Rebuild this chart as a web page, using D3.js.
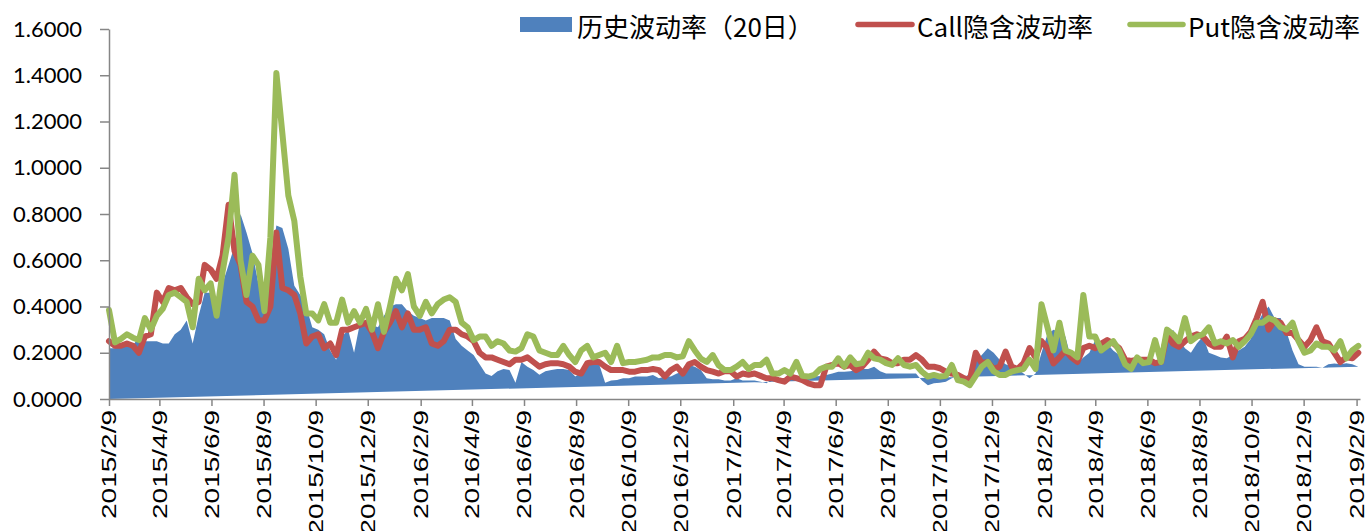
<html>
<head>
<meta charset="utf-8">
<title>波动率</title>
<script src="https://cdn.jsdelivr.net/npm/d3@7/dist/d3.min.js"></script>
<style>
  body { margin: 0; background: #fff; }
  svg { display: block; }
</style>
</head>
<body>
<div class="chart"></div>
<script>
// weekly observations starting 2015/2/9
var startDate = new Date(2015, 1, 9);

var histVol = [
  0.22,0.22,0.23,0.23,0.23,0.27,0.25,0.25,0.25,0.24,
  0.24,0.28,0.30,0.34,0.24,0.36,0.46,0.46,0.43,0.50,
  0.58,0.66,0.80,0.72,0.63,0.50,0.43,0.58,0.75,0.74,
  0.65,0.49,0.45,0.40,0.31,0.30,0.28,0.21,0.17,0.27,
  0.30,0.20,0.33,0.33,0.32,0.31,0.36,0.40,0.41,0.41,
  0.38,0.36,0.35,0.34,0.35,0.35,0.35,0.34,0.26,0.23,
  0.21,0.19,0.15,0.11,0.10,0.12,0.13,0.125,0.07,0.16,
  0.14,0.125,0.105,0.12,0.125,0.13,0.13,0.125,0.097,0.115,
  0.147,0.147,0.15,0.07,0.08,0.082,0.09,0.09,0.097,0.097,
  0.097,0.104,0.09,0.097,0.097,0.11,0.118,0.147,0.14,0.125,
  0.09,0.085,0.085,0.08,0.08,0.09,0.08,0.08,0.08,0.075,
  0.068,0.09,0.09,0.09,0.083,0.09,0.09,0.09,0.097,0.10,
  0.104,0.11,0.118,0.118,0.12,0.125,0.13,0.13,0.14,0.12,
  0.11,0.11,0.11,0.11,0.11,0.11,0.08,0.06,0.068,0.07,
  0.075,0.09,0.097,0.09,0.11,0.16,0.19,0.22,0.20,0.17,
  0.15,0.14,0.13,0.11,0.09,0.11,0.20,0.28,0.30,0.29,
  0.27,0.17,0.155,0.18,0.20,0.255,0.22,0.24,0.21,0.19,
  0.16,0.16,0.16,0.155,0.16,0.16,0.17,0.255,0.30,0.26,
  0.22,0.20,0.24,0.27,0.20,0.19,0.18,0.176,0.19,0.21,
  0.226,0.26,0.32,0.37,0.40,0.35,0.35,0.29,0.21,0.15,
  0.14,0.14,0.14,0.135,0.15,0.154,0.15,0.155,0.15,0.14
];

var callVol = [
  0.25,0.23,0.23,0.24,0.23,0.20,0.27,0.28,0.46,0.42,
  0.48,0.47,0.48,0.44,0.41,0.42,0.58,0.56,0.52,0.62,
  0.84,0.64,0.58,0.42,0.40,0.34,0.34,0.40,0.72,0.48,
  0.47,0.45,0.37,0.24,0.27,0.28,0.22,0.24,0.19,0.30,
  0.30,0.31,0.32,0.33,0.29,0.22,0.29,0.33,0.38,0.31,
  0.37,0.30,0.30,0.31,0.24,0.23,0.25,0.30,0.30,0.28,
  0.27,0.25,0.20,0.18,0.18,0.17,0.16,0.15,0.17,0.17,
  0.18,0.16,0.14,0.15,0.155,0.155,0.15,0.14,0.118,0.11,
  0.155,0.16,0.16,0.14,0.125,0.125,0.125,0.118,0.118,0.125,
  0.125,0.13,0.125,0.097,0.125,0.14,0.11,0.15,0.16,0.14,
  0.125,0.118,0.11,0.12,0.12,0.097,0.11,0.105,0.11,0.10,
  0.09,0.09,0.082,0.075,0.097,0.09,0.082,0.068,0.06,0.06,
  0.14,0.147,0.155,0.14,0.147,0.125,0.14,0.17,0.205,0.175,
  0.17,0.155,0.155,0.17,0.17,0.19,0.17,0.14,0.14,0.133,
  0.118,0.11,0.104,0.09,0.082,0.20,0.155,0.16,0.13,0.14,
  0.205,0.14,0.13,0.155,0.22,0.18,0.25,0.22,0.154,0.18,
  0.21,0.18,0.16,0.22,0.23,0.22,0.24,0.255,0.24,0.22,
  0.17,0.165,0.17,0.17,0.17,0.155,0.16,0.28,0.24,0.226,
  0.25,0.27,0.28,0.27,0.24,0.226,0.226,0.27,0.18,0.25,
  0.26,0.29,0.35,0.42,0.30,0.34,0.33,0.285,0.285,0.255,
  0.226,0.255,0.31,0.25,0.24,0.20,0.16,0.18,0.176,0.20
];

var putVol = [
  0.385,0.245,0.26,0.28,0.265,0.255,0.35,0.30,0.36,0.39,
  0.45,0.46,0.44,0.42,0.31,0.52,0.47,0.50,0.36,0.55,
  0.70,0.97,0.60,0.45,0.62,0.58,0.38,0.70,1.41,1.15,
  0.88,0.77,0.53,0.37,0.37,0.34,0.41,0.33,0.33,0.43,
  0.33,0.38,0.33,0.39,0.30,0.41,0.29,0.40,0.52,0.47,
  0.54,0.40,0.36,0.42,0.37,0.41,0.43,0.44,0.42,0.33,
  0.31,0.255,0.27,0.27,0.23,0.25,0.24,0.21,0.205,0.22,
  0.28,0.27,0.21,0.20,0.19,0.19,0.23,0.19,0.16,0.21,
  0.23,0.18,0.19,0.20,0.16,0.23,0.155,0.16,0.16,0.165,
  0.17,0.18,0.18,0.19,0.19,0.18,0.185,0.25,0.21,0.175,
  0.16,0.19,0.145,0.125,0.125,0.14,0.16,0.13,0.147,0.147,
  0.17,0.11,0.11,0.125,0.11,0.16,0.10,0.097,0.104,0.13,
  0.14,0.14,0.176,0.14,0.18,0.15,0.155,0.20,0.176,0.17,
  0.155,0.147,0.176,0.147,0.14,0.147,0.118,0.097,0.104,0.097,
  0.10,0.147,0.082,0.075,0.06,0.10,0.14,0.16,0.12,0.104,
  0.104,0.118,0.125,0.13,0.17,0.13,0.41,0.31,0.21,0.33,
  0.21,0.20,0.18,0.45,0.27,0.27,0.21,0.23,0.25,0.21,
  0.15,0.13,0.18,0.155,0.16,0.255,0.16,0.30,0.28,0.25,
  0.35,0.25,0.27,0.28,0.31,0.24,0.25,0.24,0.255,0.226,
  0.25,0.28,0.33,0.33,0.35,0.34,0.31,0.30,0.33,0.25,
  0.20,0.21,0.24,0.226,0.226,0.21,0.25,0.176,0.21,0.23
];

var yTicks = [0, 0.2, 0.4, 0.6, 0.8, 1.0, 1.2, 1.4, 1.6];
var seriesNames = ["历史波动率（20日）", "Call隐含波动率", "Put隐含波动率"];
var colors = ["#4F81BD", "#C0504D", "#9BBB59"];

var dates = histVol.map(function(d, i){
  return d3.timeDay.offset(startDate, 7 * i);
});
var xTickDates = d3.timeMonth.range(new Date(2015, 1, 1), new Date(2019, 1, 2), 2).map(function(m){
  return new Date(m.getFullYear(), m.getMonth(), 9);
});

var W = 1369, H = 531;
var svg = d3.select(".chart").append("svg").attr("width", W).attr("height", H);

var x = d3.scaleTime().domain([startDate, new Date(2019, 1, 13)]).range([109, 1360]);
var y = d3.scaleLinear().domain([0, 1.6]).range([399, 29]);

// historical volatility area, closed back to the first point at zero
var pts = [[dates[0], 0]].concat(histVol.map(function(v, i){ return [dates[i], v]; }));
var polyLine = d3.line().x(function(d){ return x(d[0]); }).y(function(d){ return y(d[1]); });
svg.append("path")
  .attr("d", polyLine(pts) + "Z")
  .attr("fill", colors[0]);

var line = d3.line()
  .x(function(d, i){ return x(dates[i]); })
  .y(function(d){ return y(d); });

[callVol, putVol].forEach(function(s, j){
  svg.append("path")
    .attr("d", line(s))
    .attr("fill", "none")
    .attr("stroke", colors[j + 1])
    .attr("stroke-width", 6)
    .attr("stroke-linejoin", "round")
    .attr("stroke-linecap", "round");
});

// axes
var yAxis = svg.append("g")
  .attr("transform", "translate(109,0)")
  .call(d3.axisLeft(y).tickValues(yTicks).tickFormat(d3.format(".4f")).tickSize(9).tickSizeOuter(0).tickPadding(18));
yAxis.selectAll("text")
  .style("font-family", "Lato, 'Open Sans', sans-serif")
  .style("font-size", "22px")
  .attr("fill", "#000");

var xAxis = svg.append("g")
  .attr("transform", "translate(0,399)")
  .call(d3.axisBottom(x).tickValues(xTickDates).tickFormat(d3.timeFormat("%Y/%-m/%-d")).tickSize(7).tickSizeOuter(0));
xAxis.selectAll("text")
  .attr("x", 0).attr("y", 0).attr("dy", null)
  .attr("text-anchor", "end")
  .attr("dominant-baseline", "central")
  .attr("transform", "translate(0,11) rotate(-90) scale(1.4,1)")
  .style("font-family", "'Liberation Sans', Arial, sans-serif")
  .style("font-size", "20px")
  .attr("fill", "#000");

svg.selectAll(".domain, .tick line").attr("stroke", "#868686").attr("stroke-width", 1.5);

// legend
var lg = svg.append("g").style("font-family", "'Noto Sans CJK SC', 'Noto Sans', sans-serif").style("font-size", "26px");
lg.append("rect").attr("x", 520).attr("y", 17).attr("width", 52).attr("height", 15).attr("fill", colors[0]);
lg.append("text").attr("x", 577).attr("y", 25).attr("dominant-baseline", "central").text(seriesNames[0]);
[[858, 912, 917], [1130, 1183, 1188]].forEach(function(p, j){
  lg.append("line").attr("x1", p[0]).attr("x2", p[1]).attr("y1", 24.5).attr("y2", 24.5)
    .attr("stroke", colors[j + 1]).attr("stroke-width", 5.5).attr("stroke-linecap", "round");
  lg.append("text").attr("x", p[2]).attr("y", 25).attr("dominant-baseline", "central").text(seriesNames[j + 1]);
});
</script>
</body>
</html>
